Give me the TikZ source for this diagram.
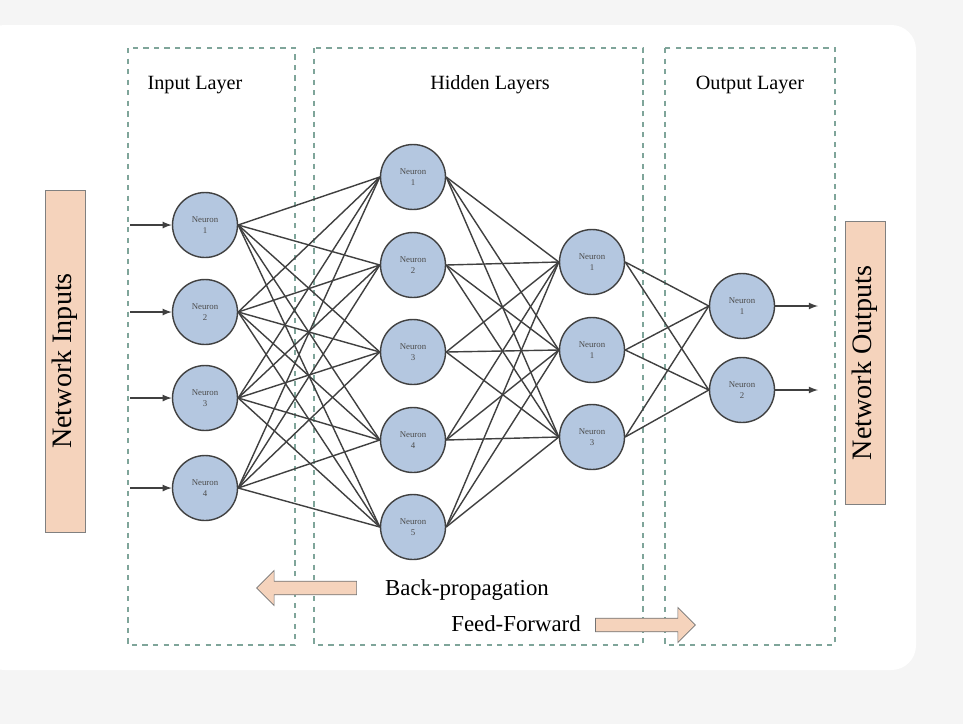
\documentclass[tikz,border=0pt]{standalone}
\usepackage{fontspec}
\setmainfont{Liberation Serif}
\usetikzlibrary{shapes.arrows}
\definecolor{neuronfill}{HTML}{B4C7E0}
\definecolor{boxfill}{HTML}{F5D3BC}
\definecolor{dashcol}{HTML}{7FA59A}
\begin{document}
\begin{tikzpicture}
	[x=0.02cm,y=-0.02cm,
	neuron/.style={circle,draw=black!75,thick,fill=neuronfill,minimum size=1.3cm,
		inner sep=0pt,align=center,font=\fontsize{5}{6}\selectfont,text=black!70},
	layer/.style={draw=dashcol,dashed,thick},
	title/.style={font=\fontsize{11.5}{13}\selectfont},
	iobox/.style={draw=black!50,fill=boxfill,minimum height=0.8cm,inner sep=0pt,
		rotate=90,font=\fontsize{16}{18}\selectfont},
	flow/.style={single arrow,draw=black!55,fill=boxfill,minimum height=2cm,
		minimum width=0.7cm,single arrow head extend=0.2cm,inner sep=3.4pt},
	link/.style={black!75,thick}
	]
	\useasboundingbox (0,0) rectangle (963,724);
	\fill[black!4] (0,0) rectangle (963,724);
	\fill[white,rounded corners=14pt] (-20,25) rectangle (916,670);
	% layer frames
	\draw[layer] (128,48) rectangle (295,645);
	\draw[layer] (314,48) rectangle (643,645);
	\draw[layer] (665,48) rectangle (835,645);
	\node[title] (tin) at (195,85) {Input Layer};
	\node[title] (thid) at (490,85) {Hidden Layers};
	\node[title] (tout) at (750,85) {Output Layer};
	% neurons
	\foreach \i/\y in {1/225,2/312,3/398,4/488}
		\node[neuron] (a\i) at (205,\y) {Neuron\\\i};
	\foreach \i/\y in {1/177,2/265,3/352,4/440,5/527}
		\node[neuron] (b\i) at (413,\y) {Neuron\\\i};
	\foreach \i/\t/\y in {1/1/262,2/1/350,3/3/437}
		\node[neuron] (c\i) at (592,\y) {Neuron\\\t};
	\foreach \i/\y in {1/306,2/390}
		\node[neuron] (d\i) at (742,\y) {Neuron\\\i};
	% links
	\foreach \i in {1,...,4}
		\foreach \j in {1,...,5}
			\draw[link] (a\i.east) -- (b\j.west);
	\foreach \i in {1,...,5}
		\foreach \j in {1,...,3}
			\draw[link] (b\i.east) -- (c\j.west);
	\foreach \i in {1,...,3}
		\foreach \j in {1,2}
			\draw[link] (c\i.east) -- (d\j.west);
	% inputs and outputs
	\node[iobox,minimum width=6.84cm] (nin) at (65,361) {Network Inputs};
	\node[iobox,minimum width=5.66cm] (nout) at (865,363) {Network Outputs};
	\foreach \i/\y in {1/225,2/312,3/398,4/488} {
		\coordinate (s\i) at (130,\y);
		\draw[link,-latex] (s\i) -- (a\i.west);
	}
	\foreach \i/\y in {1/306,2/390} {
		\coordinate (e\i) at (818,\y);
		\draw[link,-latex] (d\i.east) -- (e\i);
	}
	% directions
	\node[flow,shape border rotate=180] (back) at (310,588) {};
	\node[font=\fontsize{13}{15}\selectfont] (tback) at (467,590) {Back-propagation};
	\node[flow] (feed) at (642,625) {};
	\node[font=\fontsize{13}{15}\selectfont] (tfeed) at (516,624) {Feed-Forward};
\end{tikzpicture}
\end{document}
